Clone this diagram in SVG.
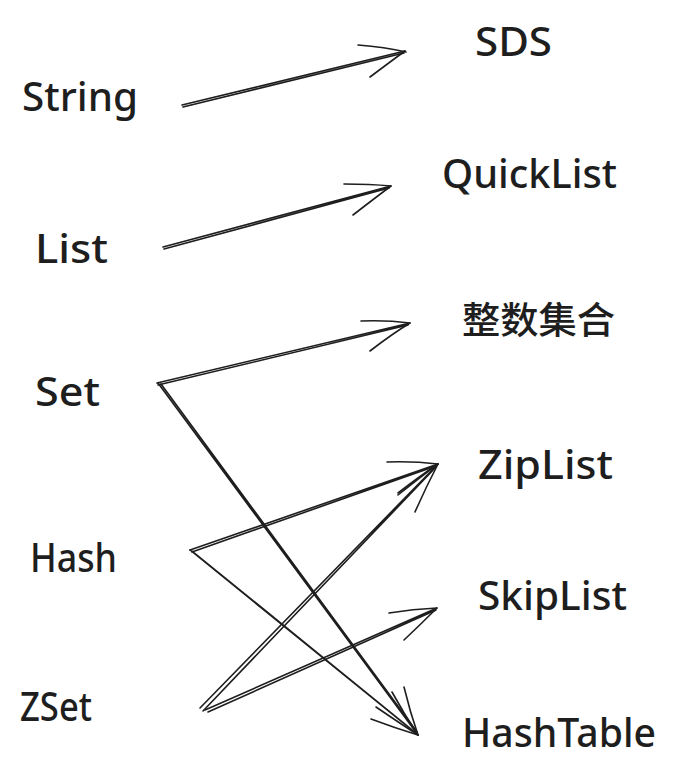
<svg xmlns="http://www.w3.org/2000/svg" width="677" height="780" viewBox="0 0 677 780">
<style>
.t{font-family:"Noto Sans","Liberation Sans","Noto Sans CJK SC",sans-serif;font-size:39px;font-weight:500;fill:#1e1e1e}
.c{font-family:"Noto Sans CJK SC","Noto Sans",sans-serif;font-size:37px;font-weight:500;fill:#1e1e1e}
.l{fill:none;stroke:#1e1e1e;stroke-width:1.6;stroke-linecap:round}
</style>
<rect width="677" height="780" fill="#ffffff"/>
<g id="n-string"><text class="t" x="22" y="111" textLength="116" lengthAdjust="spacingAndGlyphs">String</text></g>
<g id="n-list"><text class="t" x="35" y="263" textLength="73" lengthAdjust="spacingAndGlyphs">List</text></g>
<g id="n-set"><text class="t" x="35" y="406" textLength="65" lengthAdjust="spacingAndGlyphs">Set</text></g>
<g id="n-hash"><text class="t" x="30" y="572" textLength="87" lengthAdjust="spacingAndGlyphs">Hash</text></g>
<g id="n-zset"><text class="t" x="20" y="721" textLength="72" lengthAdjust="spacingAndGlyphs">ZSet</text></g>
<g id="n-sds"><text class="t" x="475" y="56" textLength="77" lengthAdjust="spacingAndGlyphs">SDS</text></g>
<g id="n-quicklist"><text class="t" x="442" y="188" textLength="175" lengthAdjust="spacingAndGlyphs">QuickList</text></g>
<g id="n-intset"><text class="c" x="462" y="334" textLength="153" lengthAdjust="spacingAndGlyphs">整数集合</text></g>
<g id="n-ziplist"><text class="t" x="478" y="479" textLength="135" lengthAdjust="spacingAndGlyphs">ZipList</text></g>
<g id="n-skiplist"><text class="t" x="478" y="610" textLength="149" lengthAdjust="spacingAndGlyphs">SkipList</text></g>
<g id="n-hashtable"><text class="t" x="462" y="747" textLength="194" lengthAdjust="spacingAndGlyphs">HashTable</text></g>
<g id="connectors" class="l">
<!-- String -> SDS -->
<path d="M182 105 L405 51 M183 107 L404 53"/>
<path d="M358 45 Q385 47 406 52 M370 77 Q390 62 405 51"/>
<!-- List -> QuickList -->
<path d="M163 247 L391 186 M164 249 L389 188"/>
<path d="M344 184 Q370 184 391 186 M353 215 Q375 198 391 186"/>
<!-- Set -> 整数集合 -->
<path d="M157 383 L410 323 M158 385 L408 325"/>
<path d="M361 321 Q387 320 410 323 M370 351 Q392 334 410 323"/>
<!-- Set -> HashTable -->
<path d="M158 383 L418 735 M161 384 L417 732"/>
<path d="M404 687 Q410 712 418 735 M376 707 Q398 722 418 735"/>
<!-- Hash -> ZipList -->
<path d="M190 550 L438 464 M192 552 L436 466"/>
<path d="M387 462 Q413 461 438 464 M398 493 Q420 476 438 464"/>
<!-- Hash -> HashTable -->
<path d="M190 550 L418 735 M192 551 L416 733"/>
<path d="M392 692 Q404 714 418 735 M371 719 Q395 728 418 735"/>
<!-- ZSet -> ZipList -->
<path d="M200 708 L438 464 M203 711 L436 467"/>
<path d="M415 512 Q426 487 438 464 M398 495 Q419 478 438 464"/>
<!-- ZSet -> SkipList -->
<path d="M205 710 L437 608 M208 712 L436 610"/>
<path d="M389 613 Q413 609 437 608 M404 640 Q421 624 437 608"/>
</g>
</svg>
